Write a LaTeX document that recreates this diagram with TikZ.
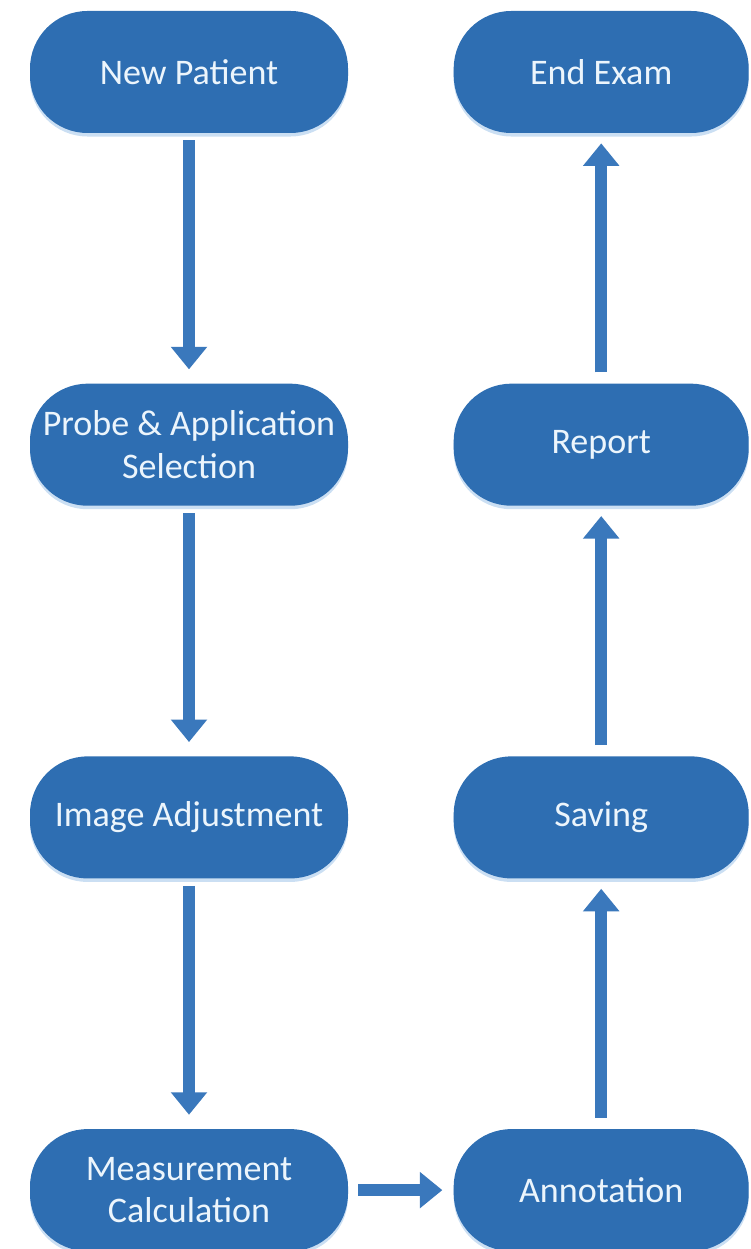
\documentclass[tikz,border=0pt]{standalone}
\usepackage{fontspec}
\setmainfont{Carlito}
\usetikzlibrary{arrows.meta}
\usetikzlibrary{positioning}
\usetikzlibrary{shadows}

\definecolor{boxblue}{RGB}{46,110,178}
\definecolor{arrowblue}{RGB}{58,120,188}
\definecolor{glowblue}{RGB}{190,215,240}
\definecolor{textwhite}{RGB}{236,245,252}

\begin{document}
\begin{tikzpicture}[
        node distance=5cm and 2.1cm,
        block/.style={rectangle, rounded corners=1.15cm, fill=boxblue, text=textwhite,
            minimum width=6.36cm, minimum height=2.44cm, inner xsep=2pt, align=center,
            font=\fontsize{20.5}{24}\selectfont,
            drop shadow={shadow xshift=0pt, shadow yshift=-2pt, fill=glowblue, opacity=0.8}},
        rblock/.style={block, minimum width=5.9cm},
        arrow/.style={draw=arrowblue, line width=0.24cm, -{Triangle[width=0.7cm, length=0.45cm]}}
        ]

        \useasboundingbox (0,0) rectangle (15.02,-24.98);

        % left column, top to bottom
        \node (patient) [block] at (3.78,-1.44) {New Patient};
        \node (probe)   [block, below=of patient] {Probe \& Application\\Selection};
        \node (image)   [block, below=of probe]   {Image Adjustment};
        \node (measure) [block, below=of image]   {Measurement\\Calculation};

        % right column, bottom to top
        \node (annot)  [rblock, right=of measure] {Annotation};
        \node (saving) [rblock, above=of annot]   {Saving};
        \node (report) [rblock, above=of saving]  {Report};
        \node (endexam)[rblock, above=of report]  {End Exam};

        % Arrows
        \draw[arrow, shorten <=0.14cm, shorten >=0.28cm] (patient) -- (probe);
        \draw[arrow, shorten <=0.14cm, shorten >=0.28cm] (probe)   -- (image);
        \draw[arrow, shorten <=0.14cm, shorten >=0.28cm] (image)   -- (measure);
        \draw[arrow, shorten <=0.2cm, shorten >=0.22cm] (measure) -- (annot);
        \draw[arrow, shorten <=0.22cm, shorten >=0.2cm] (annot)   -- (saving);
        \draw[arrow, shorten <=0.22cm, shorten >=0.2cm] (saving)  -- (report);
        \draw[arrow, shorten <=0.22cm, shorten >=0.2cm] (report)  -- (endexam);

    \end{tikzpicture}
\end{document}
